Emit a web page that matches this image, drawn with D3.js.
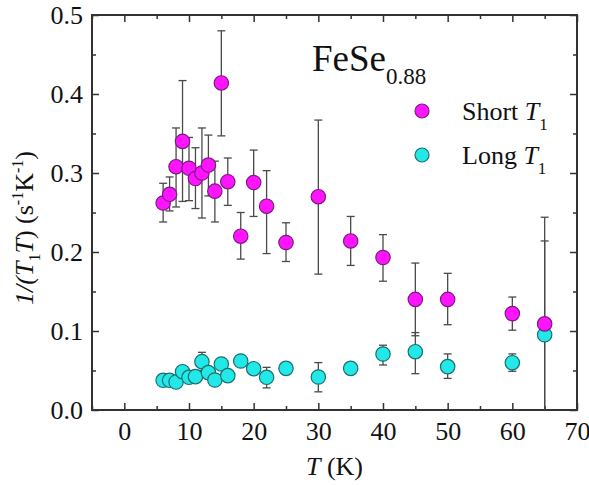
<!DOCTYPE html>
<html>
<head>
<meta charset="utf-8">
<script src="https://cdn.jsdelivr.net/npm/d3@7/dist/d3.min.js"></script>
<style>
  body { margin: 0; background: #fff; }
</style>
</head>
<body>
<div id="chart"></div>
<script>
// temperatures (K)
var temps = [6, 7, 8, 9, 10, 11, 12, 13, 14, 15, 16, 18, 20, 22, 25, 30, 35, 40, 45, 50, 60, 65];

// short T1 component: 1/(T1T) and error bar ends
var shortVal = [0.262, 0.273, 0.308, 0.340, 0.306, 0.293, 0.300, 0.310, 0.277, 0.414, 0.289, 0.220, 0.288, 0.258, 0.212, 0.270, 0.214, 0.193, 0.140, 0.140, 0.122, 0.109];
var shortLo = [0.238, 0.252, 0.257, 0.264, 0.265, 0.255, 0.243, 0.271, 0.238, 0.347, 0.259, 0.191, 0.245, 0.198, 0.188, 0.172, 0.183, 0.163, 0.094, 0.108, 0.101, -0.03];
var shortHi = [0.287, 0.295, 0.357, 0.417, 0.345, 0.332, 0.357, 0.348, 0.315, 0.480, 0.319, 0.250, 0.329, 0.303, 0.237, 0.367, 0.245, 0.222, 0.186, 0.173, 0.143, 0.244];

// long T1 component
var longVal = [0.0376, 0.0376, 0.0354, 0.0485, 0.0414, 0.0422, 0.0612, 0.0473, 0.0380, 0.0582, 0.0435, 0.0620, 0.0523, 0.0414, 0.0527, 0.0418, 0.0527, 0.0709, 0.0738, 0.0549, 0.0599, 0.0953];
var longLo = [0.034, 0.034, 0.032, 0.045, 0.038, 0.039, 0.050, 0.044, 0.035, 0.055, 0.040, 0.059, 0.049, 0.028, 0.050, 0.023, 0.050, 0.057, 0.046, 0.040, 0.049, -0.03];
var longHi = [0.041, 0.041, 0.039, 0.052, 0.045, 0.046, 0.073, 0.051, 0.041, 0.062, 0.047, 0.065, 0.056, 0.054, 0.056, 0.060, 0.056, 0.082, 0.098, 0.071, 0.071, 0.214];

var xMajor = [0, 10, 20, 30, 40, 50, 60, 70];
var xMinor = [-5, 5, 15, 25, 35, 45, 55, 65];
var yMajor = [0.0, 0.1, 0.2, 0.3, 0.4, 0.5];
var yMinor = [0.05, 0.15, 0.25, 0.35, 0.45];

var FONT = 'Liberation Serif';

var W = 589, H = 485;
var margin = { top: 15, right: 12, bottom: 75, left: 92 };
var width = W - margin.left - margin.right;
var height = H - margin.top - margin.bottom;

var svg = d3.select('#chart').append('svg')
  .attr('width', W)
  .attr('height', H);

var g = svg.append('g')
  .attr('transform', 'translate(' + margin.left + ',' + margin.top + ')');

var x = d3.scaleLinear().domain([-5, 70]).range([0, width]);
var y = d3.scaleLinear().domain([0, 0.5]).range([height, 0]);

// axes, ticks pointing inward on all four sides
function styleAxis(sel) {
  sel.attr('font-family', FONT).attr('font-size', 26);
  sel.select('.domain').remove();
  sel.selectAll('line').attr('stroke', '#333').attr('stroke-width', 1.5);
  sel.selectAll('text').attr('font-family', FONT).attr('fill', '#111');
}

g.append('g').attr('transform', 'translate(0,' + height + ')')
  .call(d3.axisBottom(x).tickValues(xMajor).tickSize(-7).tickPadding(12).tickFormat(d3.format('d')))
  .call(styleAxis);
g.append('g').attr('transform', 'translate(0,' + height + ')')
  .call(d3.axisBottom(x).tickValues(xMinor).tickSize(-4).tickFormat(''))
  .call(styleAxis);
g.append('g')
  .call(d3.axisTop(x).tickValues(xMajor).tickSize(-7).tickFormat(''))
  .call(styleAxis);
g.append('g')
  .call(d3.axisTop(x).tickValues(xMinor).tickSize(-4).tickFormat(''))
  .call(styleAxis);

g.append('g')
  .call(d3.axisLeft(y).tickValues(yMajor).tickSize(-7).tickPadding(9).tickFormat(d3.format('.1f')))
  .call(styleAxis);
g.append('g')
  .call(d3.axisLeft(y).tickValues(yMinor).tickSize(-4).tickFormat(''))
  .call(styleAxis);
g.append('g').attr('transform', 'translate(' + width + ',0)')
  .call(d3.axisRight(y).tickValues(yMajor).tickSize(-7).tickFormat(''))
  .call(styleAxis);
g.append('g').attr('transform', 'translate(' + width + ',0)')
  .call(d3.axisRight(y).tickValues(yMinor).tickSize(-4).tickFormat(''))
  .call(styleAxis);

// frame
g.append('rect')
  .attr('width', width)
  .attr('height', height)
  .attr('fill', 'none')
  .attr('stroke', '#333')
  .attr('stroke-width', 2);

g.append('clipPath').attr('id', 'plot-clip')
  .append('rect').attr('width', width).attr('height', height);

var series = [
  { name: 'long', val: longVal, lo: longLo, hi: longHi, fill: '#22e8e8', stroke: '#1b6f72' },
  { name: 'short', val: shortVal, lo: shortLo, hi: shortHi, fill: '#ff14ff', stroke: '#7d1a80' }
];

// error bars first, then markers on top
series.forEach(function (s) {
  var pts = temps.map(function (t, i) {
    return { t: t, v: s.val[i], lo: s.lo[i], hi: s.hi[i] };
  });
  var eb = g.append('g').attr('class', 'err-' + s.name)
    .attr('clip-path', 'url(#plot-clip)')
    .attr('stroke', '#4a4a4a')
    .attr('stroke-width', 1.3);
  eb.selectAll('.bar').data(pts).enter().append('line')
    .attr('x1', function (d) { return x(d.t); })
    .attr('x2', function (d) { return x(d.t); })
    .attr('y1', function (d) { return y(d.lo); })
    .attr('y2', function (d) { return y(d.hi); });
  eb.selectAll('.caphi').data(pts).enter().append('line')
    .attr('x1', function (d) { return x(d.t) - 4; })
    .attr('x2', function (d) { return x(d.t) + 4; })
    .attr('y1', function (d) { return y(d.hi); })
    .attr('y2', function (d) { return y(d.hi); });
  eb.selectAll('.caplo').data(pts).enter().append('line')
    .attr('x1', function (d) { return x(d.t) - 4; })
    .attr('x2', function (d) { return x(d.t) + 4; })
    .attr('y1', function (d) { return y(d.lo); })
    .attr('y2', function (d) { return y(d.lo); });
  s.pts = pts;
});

series.forEach(function (s) {
  g.append('g').attr('class', 'pts-' + s.name)
    .selectAll('circle').data(s.pts).enter().append('circle')
    .attr('cx', function (d) { return x(d.t); })
    .attr('cy', function (d) { return y(d.v); })
    .attr('r', 7.2)
    .attr('fill', s.fill)
    .attr('stroke', s.stroke)
    .attr('stroke-width', 1.2);
});

// title
var title = g.append('text')
  .attr('x', 220)
  .attr('y', 56)
  .attr('fill', '#111')
  .attr('font-family', FONT)
  .attr('font-size', 37);
title.append('tspan').text('FeSe');
title.append('tspan').attr('dy', 13).attr('font-size', 23).text('0.88');

// legend
var legend = [
  { label: 'Short ', fill: '#ff14ff', stroke: '#7d1a80' },
  { label: 'Long ', fill: '#22e8e8', stroke: '#1b6f72' }
];
legend.forEach(function (l, i) {
  var ly = 96 + i * 44;
  g.append('circle')
    .attr('cx', 330)
    .attr('cy', ly)
    .attr('r', 7)
    .attr('fill', l.fill)
    .attr('stroke', l.stroke)
    .attr('stroke-width', 1.2);
  var t = g.append('text')
    .attr('x', 370)
    .attr('y', ly + 9)
    .attr('fill', '#111')
    .attr('font-family', FONT)
    .attr('font-size', 26);
  t.append('tspan').text(l.label);
  t.append('tspan').attr('font-style', 'italic').text('T');
  t.append('tspan').attr('dy', 10).attr('font-size', 17).text('1');
});

// x label
var xl = svg.append('text')
  .attr('x', margin.left + width / 2)
  .attr('y', 475)
  .attr('text-anchor', 'middle')
  .attr('fill', '#111')
  .attr('font-family', FONT)
  .attr('font-size', 26);
xl.append('tspan').attr('font-style', 'italic').text('T');
xl.append('tspan').text(' (K)');

// y label
var yl = svg.append('text')
  .attr('transform', 'translate(33,228) rotate(-90)')
  .attr('text-anchor', 'middle')
  .attr('fill', '#111')
  .attr('font-family', FONT)
  .attr('font-size', 26);
yl.append('tspan').attr('font-style', 'italic').text('1/(T');
yl.append('tspan').attr('dy', 7).attr('font-size', 16).text('1');
yl.append('tspan').attr('dy', -7).attr('font-style', 'italic').text('T');
yl.append('tspan').text(') (s');
yl.append('tspan').attr('dy', -10).attr('font-size', 16).text('-1');
yl.append('tspan').attr('dy', 10).text('K');
yl.append('tspan').attr('dy', -10).attr('font-size', 16).text('-1');
yl.append('tspan').attr('dy', 10).text(')');
</script>
</body>
</html>
